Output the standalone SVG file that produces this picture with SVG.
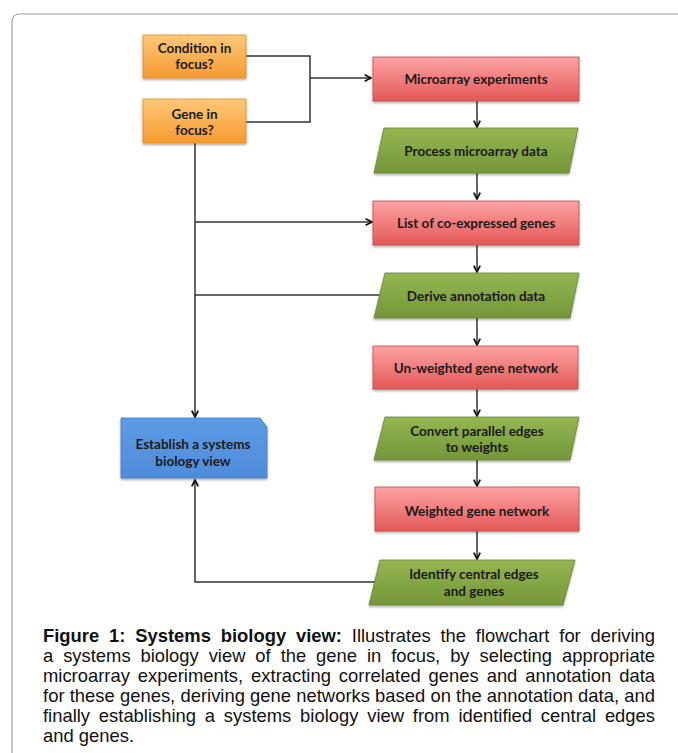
<svg xmlns="http://www.w3.org/2000/svg" width="678" height="753" viewBox="0 0 678 753">
<style>
.lbl{font-family:Lato,"Open Sans","Liberation Sans",sans-serif;font-weight:bold;font-size:13.5px;fill:#1a1a1a;text-anchor:middle}
.ln{fill:none;stroke:#333;stroke-width:1.5}
.cap{font-family:"Liberation Sans",Arial,sans-serif;font-size:18.4px;fill:#111}
.sh{filter:url(#sh)}
</style>
<defs>
<linearGradient id="gO" x1="0" y1="0" x2="0" y2="1"><stop offset="0" stop-color="#FFC878"/><stop offset="1" stop-color="#F69A30"/></linearGradient>
<linearGradient id="gR" x1="0" y1="0" x2="0" y2="1"><stop offset="0" stop-color="#FDA3A3"/><stop offset="1" stop-color="#E45858"/></linearGradient>
<linearGradient id="gG" x1="0" y1="0" x2="0" y2="1"><stop offset="0" stop-color="#95B650"/><stop offset="1" stop-color="#75963A"/></linearGradient>
<linearGradient id="gB" x1="0" y1="0" x2="0" y2="1"><stop offset="0" stop-color="#5E9BE6"/><stop offset="1" stop-color="#4F8CDA"/></linearGradient>
<filter id="sh" x="-10%" y="-10%" width="120%" height="130%"><feDropShadow dx="0" dy="1.5" stdDeviation="1" flood-color="#000" flood-opacity="0.35"/></filter>
<marker id="ar" viewBox="0 0 10 10" refX="9" refY="5" markerWidth="8" markerHeight="8" markerUnits="userSpaceOnUse" orient="auto"><path d="M1,1 L9,5 L1,9" fill="none" stroke="#111" stroke-width="2.2"/></marker>
</defs>
<path d="M12,753 L12,22 Q12,14 20,14 L678,14" fill="none" stroke="#a0a0a0" stroke-width="1.2"/>
<g id="connectors">
<path class="ln" d="M246,56 H310 V122 H246"/>
<path class="ln" d="M310,78 H371" stroke-width="2.4" marker-end="url(#ar)"/>
<path class="ln" d="M195,143 V417" marker-end="url(#ar)"/>
<path class="ln" d="M195,222 H372" marker-end="url(#ar)"/>
<path class="ln" d="M195,295 H382"/>
<path class="ln" d="M375,582 H195 V480" marker-end="url(#ar)"/>
<path class="ln" d="M477,101 V127" marker-end="url(#ar)"/>
<path class="ln" d="M477,173 V199" marker-end="url(#ar)"/>
<path class="ln" d="M477,245 V272" marker-end="url(#ar)"/>
<path class="ln" d="M477,318 V345" marker-end="url(#ar)"/>
<path class="ln" d="M477,389 V416" marker-end="url(#ar)"/>
<path class="ln" d="M477,460 V486" marker-end="url(#ar)"/>
<path class="ln" d="M477,531 V559" marker-end="url(#ar)"/>
</g>
<g id="n-condition"><rect class="sh" x="143" y="35" width="103" height="43" fill="url(#gO)" stroke="#E08A25" stroke-width="0.8"/><text class="lbl" x="194.5" y="53">Condition in</text><text class="lbl" x="194.5" y="69">focus?</text></g>
<g id="n-gene"><rect class="sh" x="143" y="99" width="103" height="44" fill="url(#gO)" stroke="#E08A25" stroke-width="0.8"/><text class="lbl" x="194.5" y="119">Gene in</text><text class="lbl" x="194.5" y="135">focus?</text></g>
<g id="n-microarray"><rect class="sh" x="373" y="57" width="206" height="44" fill="url(#gR)" stroke="#C84848" stroke-width="0.8"/><text class="lbl" x="476" y="84">Microarray experiments</text></g>
<g id="n-process"><polygon class="sh" points="384,128 578,128 569,173 374,173" fill="url(#gG)" stroke="#66862E" stroke-width="0.8"/><text class="lbl" x="476" y="156">Process microarray data</text></g>
<g id="n-list"><rect class="sh" x="373" y="201" width="206" height="44" fill="url(#gR)" stroke="#C84848" stroke-width="0.8"/><text class="lbl" x="476" y="228">List of co-expressed genes</text></g>
<g id="n-derive"><polygon class="sh" points="385,273 579,273 570,318 374,318" fill="url(#gG)" stroke="#66862E" stroke-width="0.8"/><text class="lbl" x="476" y="301">Derive annotation data</text></g>
<g id="n-unweighted"><rect class="sh" x="373" y="346" width="205" height="43" fill="url(#gR)" stroke="#C84848" stroke-width="0.8"/><text class="lbl" x="476" y="373">Un-weighted gene network</text></g>
<g id="n-convert"><polygon class="sh" points="385,417 579,417 570,460 374,460" fill="url(#gG)" stroke="#66862E" stroke-width="0.8"/><text class="lbl" x="477" y="436">Convert parallel edges</text><text class="lbl" x="477" y="452">to weights</text></g>
<g id="n-establish"><polygon class="sh" points="121,418 260,418 267,427 267,478 121,478" fill="url(#gB)" stroke="#3F78C0" stroke-width="0.8"/><text class="lbl" x="193" y="449">Establish a systems</text><text class="lbl" x="193" y="466">biology view</text></g>
<g id="n-weighted"><rect class="sh" x="375" y="487" width="204" height="44" fill="url(#gR)" stroke="#C84848" stroke-width="0.8"/><text class="lbl" x="477" y="516">Weighted gene network</text></g>
<g id="n-identify"><polygon class="sh" points="380,560 575,560 563,605 369,605" fill="url(#gG)" stroke="#66862E" stroke-width="0.8"/><text class="lbl" x="474" y="579">Identify central edges</text><text class="lbl" x="474" y="596">and genes</text></g>
<g id="caption">
<text class="cap" x="43" y="642" word-spacing="4.7" textLength="612" lengthAdjust="spacing"><tspan font-weight="bold">Figure 1: Systems biology view:</tspan> Illustrates the flowchart for deriving</text>
<text class="cap" x="43" y="662" word-spacing="4.8" textLength="612" lengthAdjust="spacing">a systems biology view of the gene in focus, by selecting appropriate</text>
<text class="cap" x="43" y="682" word-spacing="2.8" textLength="612" lengthAdjust="spacing">microarray experiments, extracting correlated genes and annotation data</text>
<text class="cap" x="43" y="702" textLength="612" lengthAdjust="spacing">for these genes, deriving gene networks based on the annotation data, and</text>
<text class="cap" x="43" y="722" word-spacing="3.7" textLength="612" lengthAdjust="spacing">finally establishing a systems biology view from identified central edges</text>
<text class="cap" x="43" y="742">and genes.</text>
</g>
</svg>
